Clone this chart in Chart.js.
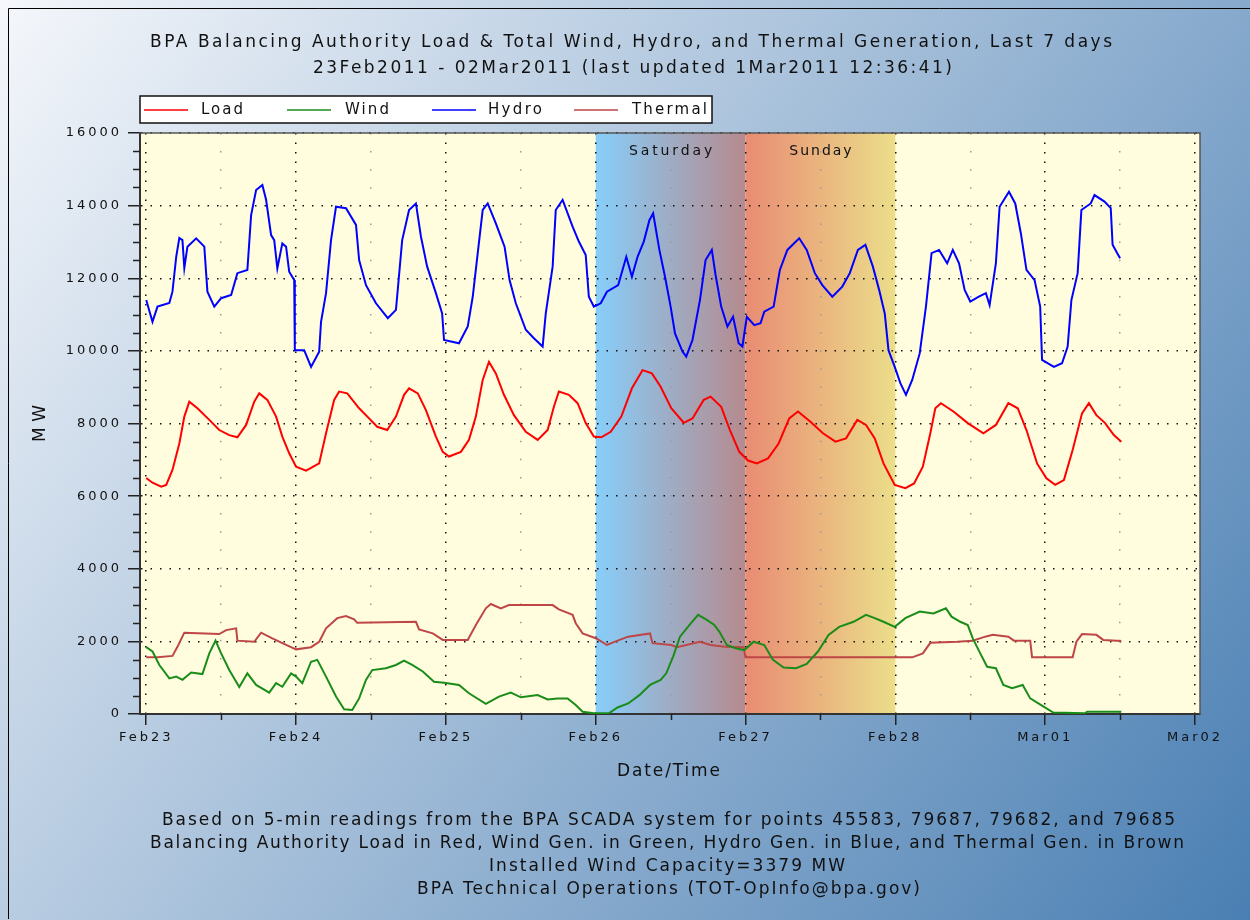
<!DOCTYPE html>
<html>
<head>
<meta charset="utf-8">
<title>BPA Balancing Authority Load & Generation</title>
<script src="https://cdn.jsdelivr.net/npm/chart.js@4.4.0/dist/chart.umd.min.js"></script>
<style>
  html, body { margin: 0; padding: 0; background: #fff; }
  canvas { display: block; }
</style>
</head>
<body>
<canvas id="bpaChart" width="1250" height="920"></canvas>
<script>
// readings taken off the original plot, hours counted from Feb23 00:00
const loadHours = [0, 1.0, 2.4, 3.2, 4.2, 5.3, 6.1, 6.9, 8.2, 10.1, 11.7, 13.3, 14.6, 16.0, 17.3, 18.1, 19.4, 20.8, 21.8, 22.9,
  24.0, 25.6, 27.7, 28.8, 30.1, 30.9, 32.2, 34.1, 35.7, 37.0, 38.6, 40.0, 41.3, 42.1, 43.5, 44.8, 46.4, 47.5,
  48.5, 50.4, 51.7, 52.8, 53.9, 54.9, 56.0, 57.3, 58.9, 60.8, 62.7, 64.3, 65.3, 66.1, 67.7, 69.1, 70.4, 71.7,
  72.9, 74.4, 76.1, 77.8, 79.5, 81.0, 82.4, 84.1, 86.1, 87.5, 89.3, 90.4, 92.1, 93.5, 95.0,
  96.4, 97.8, 99.6, 101.3, 103.0, 104.4, 106.4, 108.4, 110.4, 112.1, 113.9, 115.3, 116.7, 118.1,
  119.9, 121.6, 123.0, 124.4, 125.6, 126.4, 127.3, 129.3, 131.6, 134.1, 136.1, 138.1, 139.6, 141.0, 142.7,
  144.2, 145.6, 147.0, 148.4, 149.9, 151.0, 152.2, 153.6, 155.0, 156.2];
const loadMW = [6500, 6370, 6260, 6310, 6720, 7450, 8190, 8600, 8420, 8100, 7820, 7680, 7620, 7960, 8600, 8830, 8650, 8190, 7640, 7180,
  6810, 6700, 6900, 7730, 8650, 8880, 8830, 8420, 8140, 7910, 7820, 8190, 8790, 8970, 8830, 8370, 7640, 7220,
  7090, 7220, 7550, 8190, 9200, 9700, 9380, 8790, 8230, 7770, 7550, 7820, 8460, 8880, 8790, 8560, 8010, 7640,
  7620, 7770, 8190, 8970, 9470, 9380, 9010, 8420, 8020, 8140, 8650, 8740, 8460, 7820, 7220,
  6980, 6900, 7040, 7450, 8140, 8330, 8050, 7730, 7500, 7590, 8100, 7960, 7590, 6900,
  6310, 6220, 6350, 6810, 7730, 8420, 8560, 8330, 8010, 7730, 7960, 8560, 8420, 7820, 6900,
  6490, 6310, 6440, 7270, 8280, 8560, 8230, 8010, 7680, 7500];

const windHours = [0, 1.0, 2.1, 3.7, 4.8, 5.8, 7.2, 9.0, 10.1, 11.1, 12.0, 13.3, 14.9, 16.2, 17.6, 19.7, 20.8, 21.8, 23.2,
  24.0, 25.0, 26.4, 27.4, 28.8, 30.4, 31.7, 33.0, 34.1, 35.2, 36.2, 38.4, 40.0, 41.3, 42.6, 44.3, 46.1, 47.7,
  50.1, 51.7, 54.4, 56.5, 58.4, 60.0, 62.7, 64.3, 65.9, 67.5, 68.8, 69.9, 71.7,
  74.1, 75.5, 77.2, 79.0, 80.7, 82.4, 83.3, 84.4, 85.5, 87.0, 88.4, 89.8, 91.0, 91.8, 93.0, 94.4, 95.8,
  97.3, 99.0, 100.4, 102.1, 104.1, 105.8, 107.6, 109.3, 111.0, 113.3, 115.3, 116.7, 118.1, 119.9,
  121.6, 123.9, 126.1, 128.1, 129.0, 130.4, 131.6, 132.4, 133.6, 134.7, 136.1, 137.3, 138.7, 140.4, 141.6, 143.3,
  145.3, 150.4, 150.7, 155.0, 156.2];
const windMW = [1840, 1720, 1350, 980, 1030, 940, 1140, 1100, 1670, 2020, 1670, 1210, 740, 1120, 800, 590, 850, 750, 1120,
  1030, 850, 1440, 1490, 1030, 480, 130, 110, 430, 940, 1210, 1260, 1350, 1470, 1350, 1170, 890, 860,
  800, 570, 280, 480, 590, 460, 520, 400, 430, 430, 250, 60, 20,
  20, 180, 290, 520, 800, 940, 1120, 1580, 2130, 2450, 2730, 2590, 2450, 2270, 1900, 1810, 1760,
  1990, 1900, 1490, 1280, 1260, 1380, 1720, 2180, 2400, 2540, 2730, 2640, 2540, 2400,
  2640, 2820, 2770, 2910, 2680, 2540, 2450, 2080, 1670, 1300, 1260, 800, 710, 800, 430, 250,
  40, 20, 60, 60, 60];

const hydroHours = [0, 1.0, 1.8, 3.7, 4.2, 4.8, 5.3, 5.8, 6.1, 6.6, 8.0, 9.3, 9.8, 10.9, 12.0, 13.6, 14.6, 16.2, 16.8, 17.6,
  18.6, 19.2, 20.0, 20.5, 21.0, 21.8, 22.4, 22.9, 23.7, 23.8, 25.3, 26.4, 27.7, 28.0, 28.8, 29.6, 30.4, 32.0,
  33.6, 34.1, 35.2, 36.8, 38.7, 40.0, 41.0, 42.1, 43.2, 44.0, 45.0, 46.4, 47.4, 47.7, 50.1, 51.5, 52.3, 53.1,
  53.9, 54.7, 56.0, 57.4, 58.2, 59.2, 60.8, 62.1, 63.5, 64.0, 65.1, 65.6, 66.7, 68.3, 69.3, 70.4, 70.9, 71.7,
  72.8, 73.8, 75.6, 76.9, 77.8, 78.7, 79.7, 80.6, 81.2, 82.2, 83.1, 84.0, 84.7, 85.9, 86.5, 87.5, 88.7, 89.6,
  90.6, 91.2, 92.1, 93.1, 94.0, 94.9, 95.5, 96.2, 97.4, 98.4, 99.0, 100.5, 101.5, 102.7, 104.6, 105.8, 107.1,
  108.3, 109.9, 111.5, 112.7, 114.0, 115.2, 116.4, 117.4, 118.3, 118.9, 119.9, 120.8, 121.7, 122.7, 123.9,
  124.9, 125.8, 127.0, 128.3, 129.2, 130.2, 131.1, 132.0, 133.3, 134.5, 135.1, 136.1, 136.7, 138.2, 139.2,
  140.1, 141.0, 142.3, 143.2, 143.5, 145.4, 146.7, 147.6, 148.2, 149.2, 149.8, 151.3, 151.9, 153.5, 154.5,
  154.8, 155.7, 156.0];
const hydroMW = [11400, 10800, 11220, 11320, 11630, 12590, 13110, 13050, 12280, 12870, 13100, 12870, 11630, 11220, 11450, 11540, 12140, 12230, 13740, 14430,
  14570, 14160, 13190, 13050, 12270, 12960, 12870, 12180, 11950, 10020, 10020, 9560, 9980, 10800, 11590, 13050, 13970, 13930,
  13470, 12500, 11810, 11310, 10900, 11130, 13050, 13880, 14060, 13150, 12320, 11590, 11030, 10300, 10210, 10670, 11490, 12690,
  13880, 14060, 13510, 12870, 11950, 11310, 10580, 10350, 10120, 11030, 12320, 13880, 14160, 13420, 13010, 12640, 11490, 11220,
  11310, 11630, 11810, 12590, 12040, 12590, 13010, 13600, 13790, 12780, 12040, 11220, 10480, 9980, 9840, 10300, 11400, 12500,
  12780, 12090, 11220, 10670, 10940, 10210, 10120, 10940, 10710, 10760, 11080, 11220, 12230, 12780, 13100, 12780, 12140,
  11810, 11490, 11770, 12140, 12780, 12920, 12320, 11680, 11030, 10020, 9560, 9110, 8790, 9200, 9930,
  11220, 12690, 12780, 12410, 12780, 12410, 11680, 11360, 11490, 11590, 11260, 12410, 13970, 14380, 14060,
  13240, 12230, 11950, 11220, 9750, 9560, 9660, 10120, 11400, 12140, 13880, 14060, 14290, 14110, 13930,
  12920, 12640, 12550];

const thermalHours = [0, 1.8, 4.2, 5.0, 6.1, 11.7, 12.8, 14.4, 14.6, 17.3, 18.4, 20.2, 21.8, 23.2, 24.0, 26.4, 27.7, 28.8,
  30.6, 32.0, 33.3, 33.8, 43.2, 43.7, 45.9, 47.5, 51.5, 52.8, 54.4, 55.2, 56.8, 58.1, 65.1, 66.1, 68.3, 68.8, 69.9,
  72.1, 73.8, 75.5, 77.2, 80.7, 81.1, 84.1, 85.0, 88.7, 90.4, 92.7, 95.7, 96.0, 122.7, 124.4, 125.6, 129.9,
  132.4, 134.4, 135.6, 138.1, 139.0, 141.6, 141.9, 148.4, 149.0, 149.9, 152.2, 153.3, 156.2];
const thermalMW = [1560, 1560, 1600, 1850, 2240, 2200, 2310, 2360, 2020, 1990, 2240, 2080, 1950, 1840, 1780, 1840, 1990, 2360,
  2640, 2700, 2610, 2510, 2540, 2330, 2220, 2040, 2040, 2450, 2910, 3030, 2910, 3000, 3000, 2880, 2730, 2500, 2220,
  2080, 1900, 2020, 2130, 2220, 1950, 1900, 1840, 1990, 1900, 1850, 1840, 1560, 1560, 1670, 1960, 1990,
  2020, 2130, 2180, 2130, 2020, 2020, 1560, 1560, 1990, 2200, 2180, 2040, 2010];

const dayLabels = ['Feb23', 'Feb24', 'Feb25', 'Feb26', 'Feb27', 'Feb28', 'Mar01', 'Mar02'];
const timeTicks = [0, 12, 24, 36, 48, 60, 72, 84, 96, 108, 120, 132, 144, 156, 168];
const mwTicks = [0, 2000, 4000, 6000, 8000, 10000, 12000, 14000, 16000];
const weekendNames = ['Saturday', 'Sunday'];
const weekendStart = [72, 96];

const seriesNames = ['Load', 'Wind', 'Hydro', 'Thermal'];
const seriesColors = ['#FF0000', '#1A8C1A', '#0000FF', '#BE4646'];
const bandColors = [['#87CEFA', '#B68A8E'], ['#E98C73', '#EBDE8A']];

const titleLines = [
  'BPA Balancing Authority Load & Total Wind, Hydro, and Thermal Generation, Last 7 days',
  '23Feb2011 - 02Mar2011 (last updated 1Mar2011 12:36:41)'
];
const footLines = [
  'Based on 5-min readings from the BPA SCADA system for points 45583, 79687, 79682, and 79685',
  'Balancing Authority Load in Red, Wind Gen. in Green, Hydro Gen. in Blue, and Thermal Gen. in Brown',
  'Installed Wind Capacity=3379 MW',
  'BPA Technical Operations (TOT-OpInfo@bpa.gov)'
];

const toPoints = (hrs, vals) => hrs.map((h, i) => ({x: h, y: vals[i]}));
const isMinorHour = c => c.tick && c.tick.value % 24 !== 0;

// draws text spread out to a given width (the original uses a wide bitmap font)
function spreadText(ctx, text, left, cy, width, size) {
  ctx.font = size + 'px "DejaVu Sans"';
  ctx.letterSpacing = '0px';
  const w = ctx.measureText(text).width;
  ctx.letterSpacing = ((width - w) / (text.length - 1)) + 'px';
  ctx.textAlign = 'left';
  ctx.textBaseline = 'middle';
  ctx.fillText(text, left, cy);
}

const decor = {
  id: 'decor',
  beforeDraw(chart) {
    const {ctx, chartArea: a, scales: {x}} = chart;
    ctx.save();
    const bg = ctx.createLinearGradient(0, 0, chart.width, chart.height);
    bg.addColorStop(0, '#F5F7FB');
    bg.addColorStop(1, '#4A7FB3');
    ctx.fillStyle = bg;
    ctx.fillRect(0, 0, chart.width, chart.height);
    ctx.fillStyle = '#FFFDDE';
    ctx.fillRect(a.left, a.top, a.right - a.left, a.bottom - a.top);
    weekendStart.forEach((h, i) => {
      const x0 = x.getPixelForValue(h), x1 = x.getPixelForValue(h + 24);
      const g = ctx.createLinearGradient(x0, 0, x1, 0);
      g.addColorStop(0, bandColors[i][0]);
      g.addColorStop(1, bandColors[i][1]);
      ctx.fillStyle = g;
      ctx.fillRect(x0, a.top, x1 - x0, a.bottom - a.top);
    });
    ctx.restore();
    ctx.letterSpacing = '3px';
  },
  afterDraw(chart) {
    const {ctx, chartArea: a, scales: {x, y}} = chart;
    ctx.save();

    // plot frame
    ctx.strokeStyle = '#555';
    ctx.lineWidth = 1.5;
    ctx.beginPath();
    ctx.moveTo(a.left, a.top);
    ctx.lineTo(a.right, a.top);
    ctx.lineTo(a.right, a.bottom);
    ctx.stroke();

    // minor ticks
    ctx.strokeStyle = '#222';
    ctx.beginPath();
    for (let v = 500; v < 16000; v += 500) {
      if (v % 2000 === 0) continue;
      const py = Math.round(y.getPixelForValue(v)) + 0.5;
      ctx.moveTo(a.left - 7, py);
      ctx.lineTo(a.left, py);
    }
    timeTicks.filter(h => h % 24 !== 0).forEach(h => {
      const px = Math.round(x.getPixelForValue(h)) + 0.5;
      ctx.moveTo(px, a.bottom);
      ctx.lineTo(px, a.bottom + 6);
    });
    ctx.stroke();

    ctx.fillStyle = '#111';
    // weekend labels
    weekendNames.forEach((name, i) => {
      const cx = x.getPixelForValue(weekendStart[i] + 12);
      const w = name.length * 10.4;
      spreadText(ctx, name, cx - w / 2, 151, w, 14);
    });

    // legend
    ctx.fillStyle = '#fff';
    ctx.fillRect(140, 96, 572, 27);
    ctx.strokeStyle = '#111';
    ctx.lineWidth = 1.5;
    ctx.strokeRect(140, 96, 572, 27);
    const legLine = [144, 287, 432, 574];
    const legText = [201, 345, 488, 632];
    const legW = [42, 44, 54, 75];
    seriesNames.forEach((n, i) => {
      ctx.strokeStyle = seriesColors[i];
      ctx.lineWidth = 1.5;
      ctx.beginPath();
      ctx.moveTo(legLine[i], 110);
      ctx.lineTo(legLine[i] + 44, 110);
      ctx.stroke();
      ctx.fillStyle = '#111';
      spreadText(ctx, n, legText[i], 110, legW[i], 15);
    });

    // titles
    ctx.fillStyle = '#111';
    spreadText(ctx, titleLines[0], 150, 43, 962, 17);
    spreadText(ctx, titleLines[1], 313, 69, 639, 17);
    spreadText(ctx, 'Date/Time', 617, 772, 103, 17);
    ctx.save();
    ctx.translate(41, 423.5);
    ctx.rotate(-Math.PI / 2);
    spreadText(ctx, 'MW', -18.5, 0, 37, 17);
    ctx.restore();

    const footX = [162, 150, 489, 417];
    const footW = [1013, 1034, 356, 503];
    const footY = [821, 843.5, 867, 890];
    footLines.forEach((t, i) => spreadText(ctx, t, footX[i], footY[i], footW[i], 17));

    // outer frame of the picture
    ctx.strokeStyle = '#000';
    ctx.lineWidth = 1;
    ctx.beginPath();
    ctx.moveTo(8.5, 919);
    ctx.lineTo(8.5, 8.5);
    ctx.lineTo(1250, 8.5);
    ctx.stroke();
    ctx.restore();
  }
};

const tickFont = {family: 'DejaVu Sans', size: 13};

new Chart(document.getElementById('bpaChart'), {
  type: 'line',
  data: {
    datasets: [
      {label: seriesNames[0], data: toPoints(loadHours, loadMW), borderColor: seriesColors[0]},
      {label: seriesNames[1], data: toPoints(windHours, windMW), borderColor: seriesColors[1]},
      {label: seriesNames[2], data: toPoints(hydroHours, hydroMW), borderColor: seriesColors[2]},
      {label: seriesNames[3], data: toPoints(thermalHours, thermalMW), borderColor: seriesColors[3]}
    ]
  },
  options: {
    responsive: false,
    devicePixelRatio: 1,
    animation: false,
    layout: {padding: {top: 133, right: 50, left: 0, bottom: 0}},
    elements: {
      point: {radius: 0},
      line: {borderWidth: 2, tension: 0, fill: false}
    },
    plugins: {
      legend: {display: false},
      title: {display: false},
      tooltip: {enabled: false}
    },
    scales: {
      x: {
        type: 'linear',
        min: -1,
        max: 168.8,
        afterBuildTicks: s => { s.ticks = timeTicks.map(v => ({value: v})); },
        afterFit: s => { s.height = 206; },
        ticks: {
          autoSkip: false,
          maxRotation: 0,
          padding: 5,
          color: '#111',
          font: tickFont,
          callback: v => v % 24 === 0 ? dayLabels[v / 24] : ''
        },
        grid: {
          color: c => isMinorHour(c) ? '#9A9A9A' : '#111',
          lineWidth: 1.5,
          tickLength: 11,
          tickWidth: 1.5,
          tickColor: c => isMinorHour(c) ? 'rgba(0,0,0,0)' : '#222'
        },
        border: {
          color: '#333',
          width: 2,
          dash: c => isMinorHour(c) ? [1.5, 16.6] : [1.5, 8]
        }
      },
      y: {
        min: 0,
        max: 16000,
        afterBuildTicks: s => { s.ticks = mwTicks.map(v => ({value: v})); },
        afterFit: s => { s.width = 140; },
        ticks: {
          padding: 6,
          color: '#111',
          font: tickFont,
          callback: v => String(v)
        },
        grid: {
          color: '#111',
          lineWidth: 1.5,
          tickLength: 12,
          tickWidth: 1.5,
          tickColor: '#222'
        },
        border: {color: '#333', width: 2, dash: [1.5, 8]}
      }
    }
  },
  plugins: [decor]
});
</script>
</body>
</html>
